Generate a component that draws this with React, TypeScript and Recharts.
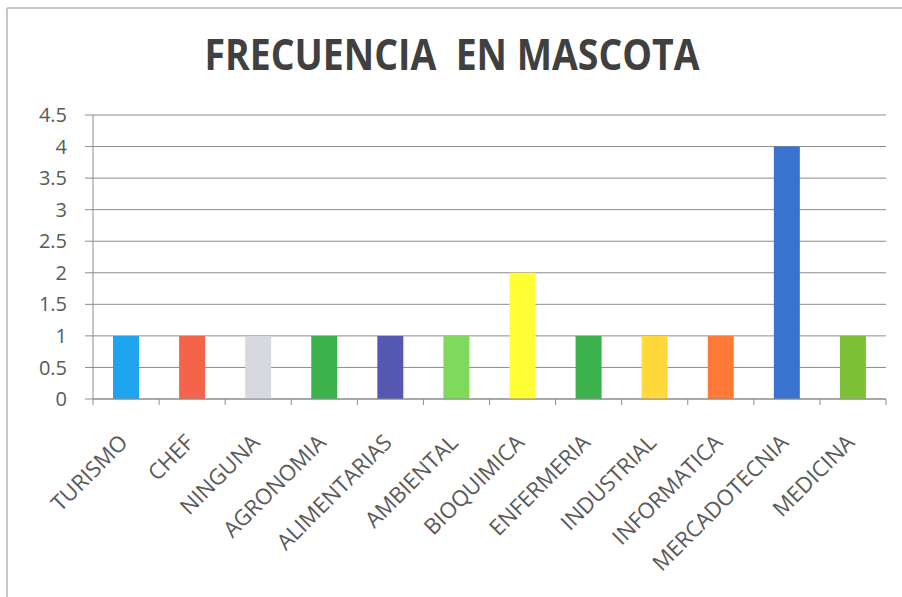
import React from "react"
import { Bar, BarChart, CartesianGrid, Cell, XAxis, YAxis } from "recharts"

const categories = [
  "TURISMO",
  "CHEF",
  "NINGUNA",
  "AGRONOMIA",
  "ALIMENTARIAS",
  "AMBIENTAL",
  "BIOQUIMICA",
  "ENFERMERIA",
  "INDUSTRIAL",
  "INFORMATICA",
  "MERCADOTECNIA",
  "MEDICINA",
]

const values = [1, 1, 1, 1, 1, 1, 2, 1, 1, 1, 4, 1]

const barColors = [
  "#1fa5ee",
  "#f4644a",
  "#d8d8e0",
  "#3bb24c",
  "#5557b0",
  "#7fd95a",
  "#ffff33",
  "#3bb24c",
  "#ffd83c",
  "#ff7a38",
  "#3a73cf",
  "#7dbf36",
]

const yTicks = [0, 0.5, 1, 1.5, 2, 2.5, 3, 3.5, 4, 4.5]

const data = categories.map((name, i) => ({ name, value: values[i] }))

const FONT = "'Open Sans', sans-serif"
const AXIS_COLOR = "#8c8c8c"

// category label rotated 45deg, plus Excel-style tick marks on the band edges
function CategoryTick(props: any) {
  const { x, y, payload, index } = props
  const half = payload && payload.offset ? payload.offset : 33
  const last = index === categories.length - 1
  return (
    <g>
      <line x1={x - half} y1={y} x2={x - half} y2={y + 6} stroke={AXIS_COLOR} />
      {last && <line x1={x + half} y1={y} x2={x + half} y2={y + 6} stroke={AXIS_COLOR} />}
      <text
        x={x + 3}
        y={y + 45}
        transform={`rotate(-45, ${x + 3}, ${y + 45})`}
        textAnchor="end"
        fill="#595959"
        fontSize={22}
        fontFamily={FONT}
      >
        {payload.value}
      </text>
    </g>
  )
}

export default function App() {
  return (
    <div style={{ position: "absolute", left: 0, top: 0, width: 902, height: 597, background: "#fff" }}>
      <BarChart
        width={902}
        height={597}
        data={data}
        margin={{ top: 115, right: 16, bottom: 8, left: 33 }}
      >
        <CartesianGrid vertical={false} stroke={AXIS_COLOR} />
        <XAxis
          dataKey="name"
          interval={0}
          height={190}
          tickSize={0}
          tickMargin={0}
          tickLine={false}
          axisLine={{ stroke: AXIS_COLOR }}
          tick={<CategoryTick />}
        />
        <YAxis
          domain={[0, 4.5]}
          ticks={yTicks}
          width={60}
          tickSize={8}
          tickMargin={18}
          axisLine={{ stroke: AXIS_COLOR }}
          tickLine={{ stroke: AXIS_COLOR }}
          tick={{ fill: "#595959", fontSize: 20, fontFamily: FONT }}
        />
        <Bar dataKey="value" barSize={26} isAnimationActive={false}>
          {data.map((d, i) => (
            <Cell key={d.name} fill={barColors[i]} />
          ))}
        </Bar>
      </BarChart>
      <svg
        width={902}
        height={597}
        style={{ position: "absolute", left: 0, top: 0, pointerEvents: "none" }}
      >
        <line x1={7} y1={8} x2={902} y2={8} stroke="#b4b4b4" strokeWidth={1.5} />
        <line x1={7} y1={8} x2={7} y2={597} stroke="#b4b4b4" strokeWidth={1.5} />
        <text
          x={452}
          y={70}
          textAnchor="middle"
          fill="#404040"
          fontSize={43}
          fontWeight="bold"
          fontFamily={FONT}
          textLength={495}
          lengthAdjust="spacingAndGlyphs"
          style={{ whiteSpace: "pre" }}
        >
          FRECUENCIA  EN MASCOTA
        </text>
      </svg>
    </div>
  )
}
